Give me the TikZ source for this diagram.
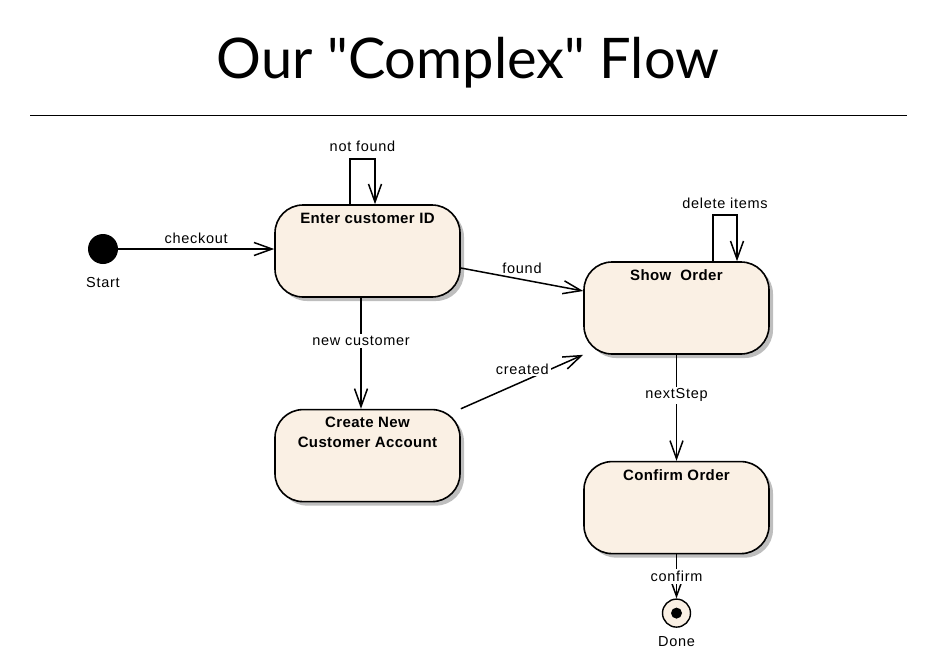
\documentclass[tikz,border=0pt]{standalone}
\usepackage{fontspec}
\setmainfont{Liberation Sans}[LetterSpace=5, BoldFeatures={LetterSpace=2.5}]
\newfontfamily\titlefont{Lato}
\usetikzlibrary{positioning, shapes, arrows.meta, shadows}
\definecolor{statefill}{HTML}{FAF0E4}
\definecolor{shadowgray}{HTML}{BEBEBE}

\tikzset{
  state/.style={draw, line width=1.6pt, rounded corners=28pt, fill=statefill,
    minimum width=185pt, minimum height=92pt, inner sep=0pt,
    drop shadow={shadow xshift=4pt, shadow yshift=-4pt, fill=shadowgray, opacity=1}},
  statename/.style={anchor=north, yshift=-6.5pt, inner sep=2pt, align=center,
    font=\fontsize{15}{20}\selectfont\bfseries},
  flow/.style={line width=1.5pt, -{Straight Barb[length=18pt,width=13pt]}},
  tag/.style={font=\fontsize{14.5}{17}\selectfont, inner sep=2pt},
  onwire/.style={tag, fill=white},
  startdot/.style={circle, fill=black, minimum size=30pt, inner sep=0pt},
  donering/.style={circle, draw, line width=1.4pt, fill=statefill, minimum size=28pt, inner sep=0pt,
    path picture={\fill[black] (path picture bounding box.center) circle (5.5pt);}}
}

\begin{document}
\begin{tikzpicture}[x=1pt, y=-1pt]
\useasboundingbox (0,0) rectangle (937,664);

% title and rule
\node[anchor=base, font=\titlefont\fontsize{56}{60}\selectfont] (title) at (468,78) {Our "Complex" Flow};
\draw[line width=1pt] (30,115) -- (907,115);

% states
\node[startdot, label={[tag, label distance=11pt]below:Start}] (start) at (103,249) {};
\node[state, label={[statename]north:Enter customer ID}] (enterid) at (367.5,251) {};
\node[state, label={[statename]north:{Create New\\Customer Account}}, below=111pt of enterid] (newacct) {};
\node[state, label={[statename]north:Show\ \ Order}] (showorder) at (676.5,308) {};
\node[state, label={[statename]north:Confirm Order}, below=106pt of showorder] (confirm) {};
\node[donering, below=44pt of confirm, label={[tag, label distance=7pt]below:Done}] (done) {};

% transitions
\draw[flow] (start) -- node[tag, above, yshift=3pt] {checkout} (start -| enterid.west);
\draw[flow] ([xshift=-17.5pt]enterid.north) -- ++(0,-45)
  -| node[tag, pos=0.25, above, yshift=5pt] {not found} ([xshift=7.5pt]enterid.north);
\draw[flow] ([yshift=-17pt]enterid.east) -- node[tag, above, yshift=3pt] {found} ([yshift=17pt]showorder.west);
\draw[flow] ([xshift=-6.5pt]enterid.south) -- node[onwire, pos=0.39] {new customer} ([xshift=-6.5pt]newacct.north);
\draw[flow] (newacct.north east) -- node[onwire, pos=0.74, anchor=east] {created} (showorder.south west);
\draw[flow] ([xshift=36.5pt]showorder.north) -- ++(0,-46)
  -| node[tag, pos=0.25, above, yshift=4pt] {delete items} ([xshift=60.5pt]showorder.north);
\draw[flow] (showorder) -- node[onwire, pos=0.38] {nextStep} (confirm);
\draw[flow] (confirm) -- node[onwire] {confirm} (done);
\end{tikzpicture}
\end{document}
